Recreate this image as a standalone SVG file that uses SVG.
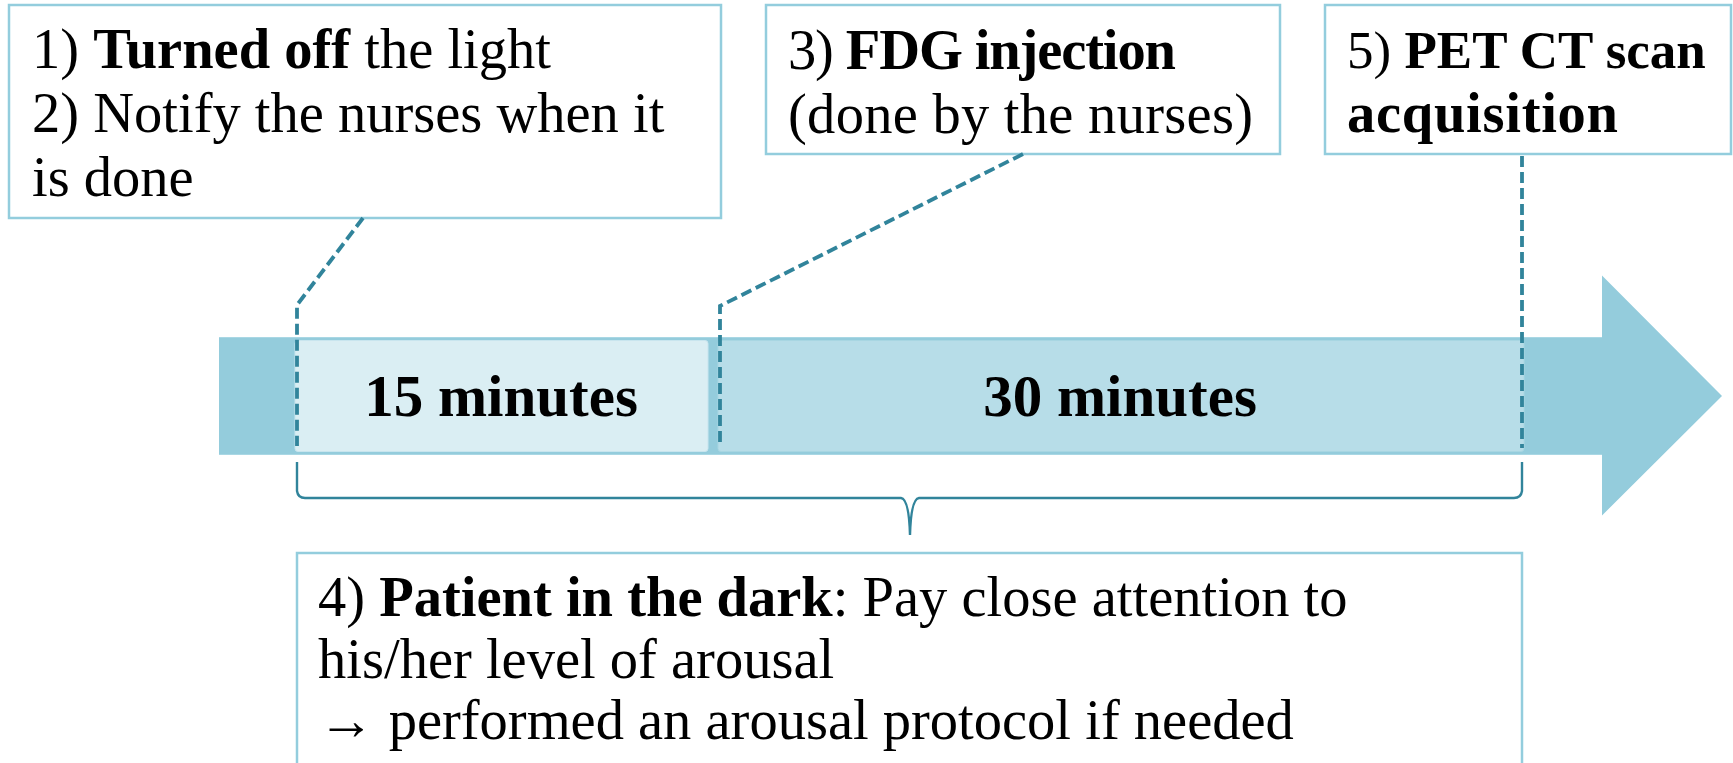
<svg xmlns="http://www.w3.org/2000/svg" width="1733" height="763" viewBox="0 0 1733 763">
<style>
.box{fill:#ffffff;stroke:#93cddd;stroke-width:2.5}
.t{font-family:"Liberation Serif","Times New Roman",serif;font-size:56.5px;fill:#000}
.b{font-weight:bold}
.seg{font-family:"Liberation Serif","Times New Roman",serif;font-size:59px;font-weight:bold;fill:#000;text-anchor:middle}
.dash{fill:none;stroke:#31849b;stroke-width:3.8;stroke-dasharray:11 5}
.brace{fill:none;stroke:#31849b;stroke-width:2.4}
</style>
<rect width="1733" height="763" fill="#ffffff"/>
<g id="timeline">
<path d="M219,337 L1602,337 L1602,275.5 L1722,396 L1602,515.5 L1602,455 L219,455 Z" fill="#94ccdc"/>
<line x1="219" y1="337.5" x2="1602" y2="337.5" stroke="#a9d7e4" stroke-width="1"/>
<line x1="219" y1="454.5" x2="1602" y2="454.5" stroke="#a9d7e4" stroke-width="1"/>
</g>
<g id="seg15">
<rect x="295" y="340.5" width="413" height="111" rx="3" fill="#daeef3" stroke="#c8e5ee" stroke-width="1"/>
<text class="seg" x="501" y="416">15 minutes</text>
</g>
<g id="seg30">
<rect x="718" y="340.5" width="806" height="111" rx="3" fill="#b7dde8" stroke="#a8d6e2" stroke-width="1"/>
<text class="seg" x="1120" y="416">30 minutes</text>
</g>
<g id="box1">
<rect class="box" x="9" y="5" width="712" height="213"/>
<text class="t" x="32" y="68">1) <tspan class="b">Turned off</tspan> the light</text>
<text class="t" x="32" y="132">2) Notify the nurses when it</text>
<text class="t" x="32" y="196">is done</text>
</g>
<g id="box3">
<rect class="box" x="766" y="5" width="514" height="149"/>
<text class="t" x="788" y="69" textLength="388">3) <tspan class="b">FDG injection</tspan></text>
<text class="t" x="788" y="133" textLength="465">(done by the nurses)</text>
</g>
<g id="box5">
<rect class="box" x="1325" y="5" width="406" height="149"/>
<text class="t" x="1347" y="68" style="font-size:53px">5) <tspan class="b">PET CT scan</tspan></text>
<text class="t b" x="1347" y="132" textLength="271">acquisition</text>
</g>
<g id="box4">
<rect class="box" x="297" y="553" width="1225" height="230"/>
<text class="t" x="318" y="616">4) <tspan class="b">Patient in the dark</tspan>: Pay close attention to</text>
<text class="t" x="318" y="678">his/her level of arousal</text>
<text class="t" x="318" y="739">→ performed an arousal protocol if needed</text>
</g>
<g id="connectors">
<path class="dash" d="M363,218 L297,305 L297,446"/>
<path class="dash" d="M1023,154 L720,306 L720,443"/>
<path class="dash" d="M1522,156 L1522,448"/>
<path class="brace" d="M297,462 L297,491 Q298,498 305,498 L901,498 Q909,499 910,535 Q911,499 919,498 L1514,498 Q1521,498 1522,491 L1522,462"/>
</g>
</svg>
